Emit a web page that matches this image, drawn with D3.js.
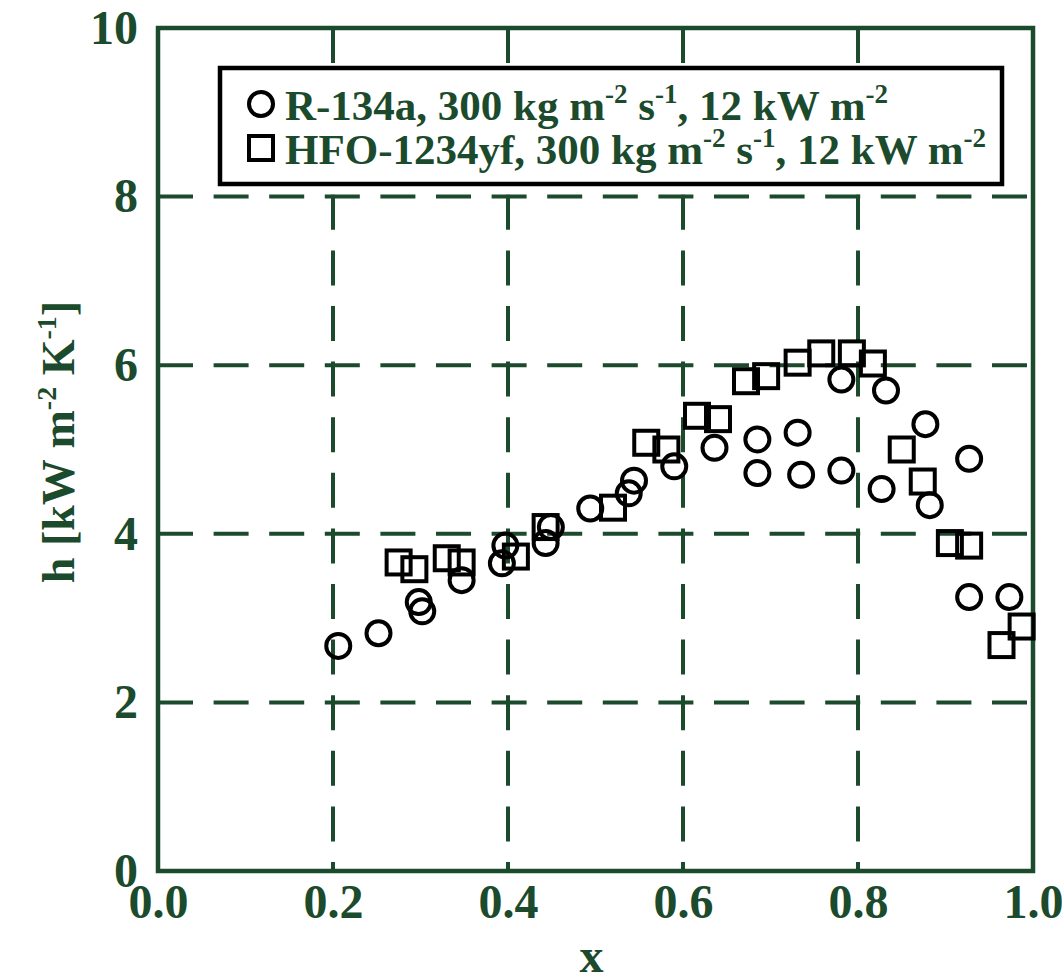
<!DOCTYPE html>
<html>
<head>
<meta charset="utf-8">
<script src="https://cdn.jsdelivr.net/npm/d3@7"></script>
<style>
  html, body { margin: 0; padding: 0; background: #fff; }
  svg { display: block; }
</style>
</head>
<body>
<div id="chart"></div>
<script>
// ---- data ----
const r134aX = [0.206, 0.252, 0.298, 0.302, 0.347, 0.393, 0.397, 0.443, 0.449, 0.494, 0.538, 0.544, 0.590,
  0.636, 0.685, 0.685, 0.731, 0.735, 0.781, 0.781, 0.832, 0.827, 0.877, 0.882, 0.927, 0.927, 0.973];
const r134aH = [2.67, 2.82, 3.19, 3.08, 3.45, 3.65, 3.86, 3.89, 4.08, 4.30, 4.48, 4.63, 4.80,
  5.02, 5.12, 4.72, 5.20, 4.70, 4.75, 5.83, 5.70, 4.53, 5.30, 4.34, 4.89, 3.25, 3.25];

const hfoX = [0.275, 0.293, 0.330, 0.347, 0.409, 0.443, 0.520, 0.558, 0.581, 0.616, 0.640, 0.672,
  0.695, 0.731, 0.758, 0.793, 0.817, 0.850, 0.874, 0.905, 0.927, 0.964, 0.987];
const hfoH = [3.66, 3.58, 3.71, 3.66, 3.73, 4.08, 4.31, 5.08, 5.00, 5.40, 5.36, 5.81,
  5.87, 6.03, 6.14, 6.14, 6.02, 5.00, 4.62, 3.89, 3.86, 2.68, 2.90];

const xTicks = [0.0, 0.2, 0.4, 0.6, 0.8, 1.0];
const yTicks = [0, 2, 4, 6, 8, 10];

// legend rows: plain text pieces and superscripts
const legendRows = [
  { marker: "circle", parts: [["R-134a, 300 kg m", ""], ["-2", "sup"], [" s", ""], ["-1", "sup"], [", 12 kW m", ""], ["-2", "sup"]] },
  { marker: "square", parts: [["HFO-1234yf, 300 kg m", ""], ["-2", "sup"], [" s", ""], ["-1", "sup"], [", 12 kW m", ""], ["-2", "sup"]] }
];

const W = 1062, H = 976;
const green = "#1b4a2c";
const font = "'Liberation Serif', 'Times New Roman', serif";

const svg = d3.select("#chart").append("svg")
  .attr("width", W).attr("height", H)
  .attr("font-family", font)
  .attr("font-weight", "bold");

const x = d3.scaleLinear().domain([0, 1]).range([158, 1033]);
const y = d3.scaleLinear().domain([0, 10]).range([871, 28]);

// ---- grid (dashed) ----
const grid = svg.append("g").attr("stroke", green).attr("stroke-width", 4).attr("stroke-dasharray", "35,20.6");
grid.selectAll("line.v").data(xTicks.slice(1, -1)).join("line")
  .attr("class", "v")
  .attr("x1", d => x(d)).attr("x2", d => x(d))
  .attr("y1", y(10)).attr("y2", y(0));
grid.selectAll("line.h").data(yTicks.slice(1, -1)).join("line")
  .attr("class", "h")
  .attr("y1", d => y(d)).attr("y2", d => y(d))
  .attr("x1", x(0)).attr("x2", x(1));

// ---- frame ----
svg.append("rect")
  .attr("x", x(0)).attr("y", y(10))
  .attr("width", x(1) - x(0)).attr("height", y(0) - y(10))
  .attr("fill", "none").attr("stroke", green).attr("stroke-width", 4.5);

// ---- axes (labels only) ----
const xAxis = svg.append("g")
  .attr("transform", `translate(0,${y(0)})`)
  .call(d3.axisBottom(x).tickValues(xTicks).tickFormat(d3.format(".1f")).tickSize(0).tickPadding(14));
const yAxis = svg.append("g")
  .attr("transform", `translate(${x(0)},0)`)
  .call(d3.axisLeft(y).tickValues(yTicks).tickFormat(d3.format("d")).tickSize(0).tickPadding(20));
[xAxis, yAxis].forEach(a => {
  a.select(".domain").remove();
  a.selectAll("text")
    .attr("fill", green)
    .attr("font-family", font)
    .attr("font-weight", "bold")
    .attr("font-size", 48);
});
xAxis.selectAll("text").attr("dy", "0.68em");

// ---- axis titles ----
svg.append("text")
  .attr("x", x(0.5) - 4).attr("y", 972)
  .attr("text-anchor", "middle")
  .attr("fill", green).attr("font-size", 48)
  .text("x");

const yTitle = svg.append("text")
  .attr("transform", `translate(74,442) rotate(-90)`)
  .attr("text-anchor", "middle")
  .attr("fill", green).attr("font-size", 46);
[["h [kW m", ""], ["-2", "sup"], [" K", ""], ["-1", "sup"], ["]", ""]].forEach(([t, k], i, arr) => {
  const ts = yTitle.append("tspan").text(t);
  if (k === "sup") ts.attr("font-size", 28).attr("dy", -18);
  else if (i > 0 && arr[i - 1][1] === "sup") ts.attr("dy", 18);
});

// ---- data markers ----
const r134a = r134aX.map((v, i) => ({ x: v, h: r134aH[i] }));
const hfo = hfoX.map((v, i) => ({ x: v, h: hfoH[i] }));
const side = 24;

svg.append("g").selectAll("rect").data(hfo).join("rect")
  .attr("x", d => x(d.x) - side / 2)
  .attr("y", d => y(d.h) - side / 2)
  .attr("width", side).attr("height", side)
  .attr("fill", "none").attr("stroke", "#000").attr("stroke-width", 4);

svg.append("g").selectAll("circle").data(r134a).join("circle")
  .attr("cx", d => x(d.x)).attr("cy", d => y(d.h))
  .attr("r", 12)
  .attr("fill", "none").attr("stroke", "#000").attr("stroke-width", 4);

// ---- legend ----
const lg = svg.append("g");
lg.append("rect")
  .attr("x", 220).attr("y", 68).attr("width", 782).attr("height", 116)
  .attr("fill", "#fff").attr("stroke", "#000").attr("stroke-width", 4.5);

legendRows.forEach((row, i) => {
  const cy = 104 + i * 44;
  if (row.marker === "circle") {
    lg.append("circle").attr("cx", 261).attr("cy", cy).attr("r", 12)
      .attr("fill", "none").attr("stroke", "#000").attr("stroke-width", 4);
  } else {
    lg.append("rect").attr("x", 261 - side / 2).attr("y", cy - side / 2)
      .attr("width", side).attr("height", side)
      .attr("fill", "none").attr("stroke", "#000").attr("stroke-width", 4);
  }
  const t = lg.append("text")
    .attr("x", 285).attr("y", cy + 16)
    .attr("fill", green).attr("font-size", 43);
  row.parts.forEach(([s, k], j) => {
    const ts = t.append("tspan").text(s);
    if (k === "sup") ts.attr("font-size", 27).attr("dy", -17);
    else if (j > 0 && row.parts[j - 1][1] === "sup") ts.attr("dy", 17);
  });
});
</script>
</body>
</html>
